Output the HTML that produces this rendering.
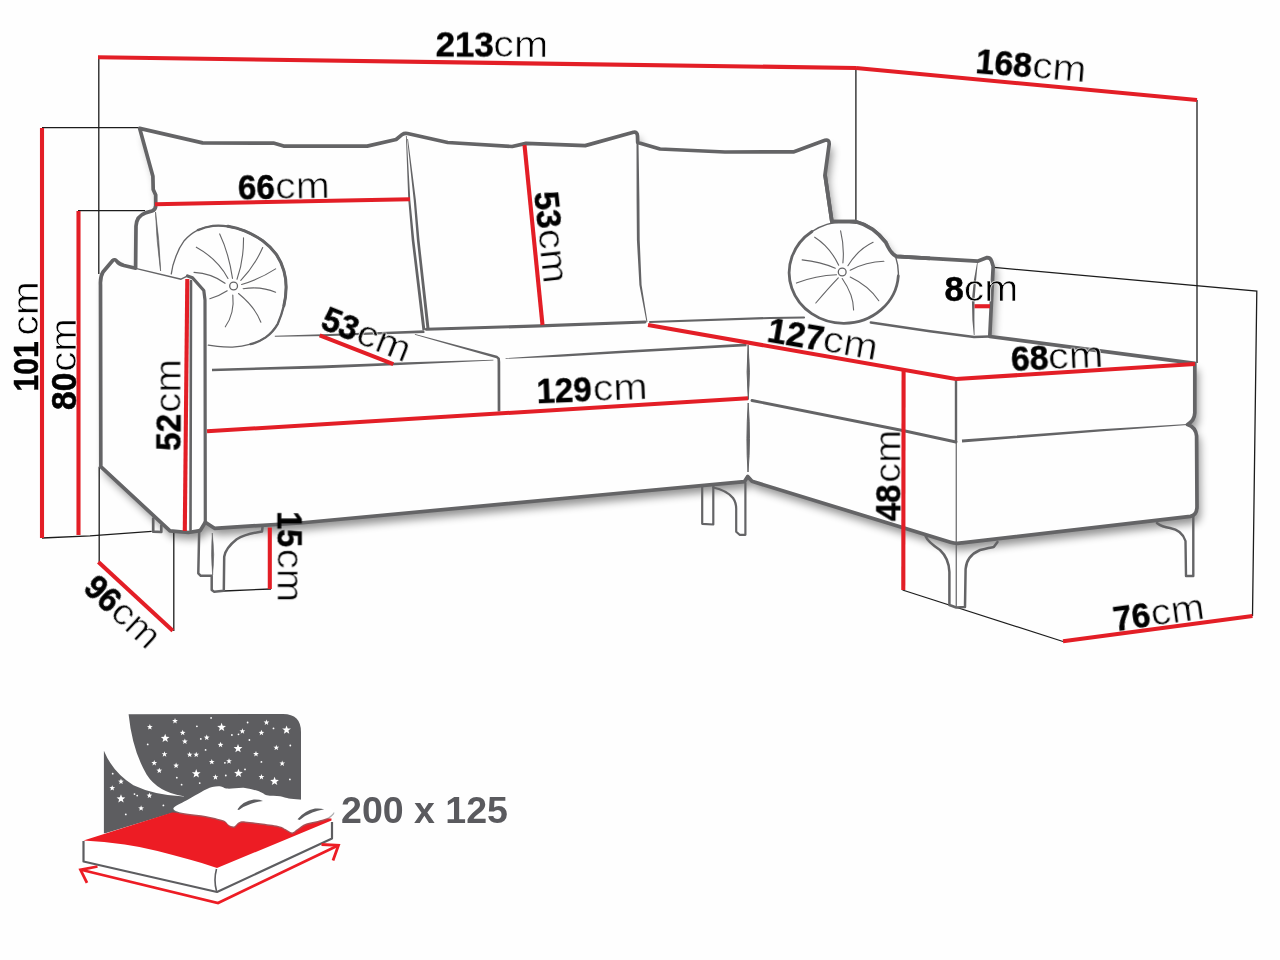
<!DOCTYPE html>
<html><head><meta charset="utf-8"><title>Sofa dimensions</title>
<style>
html,body{margin:0;padding:0;background:#fefefe;}
body{width:1280px;height:960px;overflow:hidden;}
svg{display:block;}
text{font-family:"Liberation Sans",sans-serif;}
.b{font-weight:bold;font-size:35px;stroke:#000;stroke-width:0.5px;}
.r{font-weight:normal;font-size:37px;stroke:#fefefe;stroke-width:0.7px;}
.bed{font-weight:bold;font-size:37.5px;fill:#5a5a5e;}
</style></head><body>
<svg width="1280" height="960" viewBox="0 0 1280 960">
<defs><filter id="sh" x="-5%" y="-5%" width="110%" height="115%"><feGaussianBlur stdDeviation="4.5"/></filter></defs>
<rect width="1280" height="960" fill="#fefefe"/>
<g filter="url(#sh)" opacity="0.42"><path d="M100.8,466.7 L100.5,285 Q100,277 103,272 L112.5,260.7 Q115,258.5 117,261.5 Q119,264 124,265.5 L135.6,268.2 L136,226 Q136.5,216 145.3,212.9 L152,211 Q156,209.5 155.7,205 L155.7,195 L153.2,189.4 L152.9,176.3 L139.7,128.4 L202.6,142.9 L273.4,143.1 L283.6,146.1 L367.2,146.1 L396.1,139.5 L402.3,134.4 Q404.5,132.8 407.5,133.5 L447.7,142.5 L512.2,146.5 L526,143.4 L585.2,145.6 L633.4,132.2 Q637.3,131.5 637.5,136 L637.7,142.5 L660,149 L725,152 L794,151.8 L825,140.3 Q829.3,139.3 829.2,144 L825,174.7 L831.9,221.7 L855.9,221.7 Q873,226 885.7,242.3 Q891,254 896,256.3 L977.5,261.2 L986.5,257.7 Q990.2,257.3 991.5,260.8 L993.2,266.5 L992.6,277.5 L989.8,336.5 L1194.8,363.3 L1194.8,412.9 Q1194.5,420.5 1187.5,424.5 Q1196,427.5 1196.6,436 L1197,507 Q1196.8,515 1190.4,516.4 L962,542.8 Q956.25,544 950.5,542.3 L752,481.3 L747.7,476.5 L744.5,481.6 L600,495 L300,523 L214.5,528.3 L205.3,522.3 L200.2,530.6 L188.3,532.5 L170,530.8 Z" transform="translate(3.5,7)" fill="#000"/></g>
<g fill="none" stroke="#1c1c1c" stroke-width="1.3">
<path d="M98.8,57 L98.8,274"/>
<path d="M42,127.7 L140,127.7"/>
<path d="M78,210.7 L145,210.7"/>
<path d="M42,538 L90,535.8 L151.7,531.3"/>
<path d="M99.2,466.7 L99.2,562"/>
<path d="M173.8,532 L173.8,631"/>
<path d="M224,591 L271,589"/>
<path d="M855.9,68 L855.9,221"/>
<path d="M1197,100 L1197,363"/>
<path d="M994,267.4 L1256.8,291.2 L1252.5,616"/>
<path d="M902.5,590 L1063,641.5"/>
</g>
<path d="M100.8,466.7 L100.5,285 Q100,277 103,272 L112.5,260.7 Q115,258.5 117,261.5 Q119,264 124,265.5 L135.6,268.2 L136,226 Q136.5,216 145.3,212.9 L152,211 Q156,209.5 155.7,205 L155.7,195 L153.2,189.4 L152.9,176.3 L139.7,128.4 L202.6,142.9 L273.4,143.1 L283.6,146.1 L367.2,146.1 L396.1,139.5 L402.3,134.4 Q404.5,132.8 407.5,133.5 L447.7,142.5 L512.2,146.5 L526,143.4 L585.2,145.6 L633.4,132.2 Q637.3,131.5 637.5,136 L637.7,142.5 L660,149 L725,152 L794,151.8 L825,140.3 Q829.3,139.3 829.2,144 L825,174.7 L831.9,221.7 L855.9,221.7 Q873,226 885.7,242.3 Q891,254 896,256.3 L977.5,261.2 L986.5,257.7 Q990.2,257.3 991.5,260.8 L993.2,266.5 L992.6,277.5 L989.8,336.5 L1194.8,363.3 L1194.8,412.9 Q1194.5,420.5 1187.5,424.5 Q1196,427.5 1196.6,436 L1197,507 Q1196.8,515 1190.4,516.4 L962,542.8 Q956.25,544 950.5,542.3 L752,481.3 L747.7,476.5 L744.5,481.6 L600,495 L300,523 L214.5,528.3 L205.3,522.3 L200.2,530.6 L188.3,532.5 L170,530.8 Z" fill="#fefefe" stroke="#646466" stroke-width="3.7" stroke-linejoin="round"/>
<g fill="none" stroke="#646466" stroke-linecap="round" stroke-linejoin="round">
<path d="M135.6,268.4 L181.1,279.2 L187.2,276.2" stroke-width="1.4"/>
<path d="M187.5,276 L192.5,277.7 L203.8,290.5 L205,300 L205.3,522" stroke-width="3.2"/>
<path d="M191,281 L190.5,530" stroke-width="2.6"/>
<path d="M752,400.5 L905,431 L956,442" stroke-width="2.9"/>
<path d="M956,381 L956,442" stroke-width="2.4"/>
<path d="M956.25,442 L956.25,606" stroke-width="1.2"/>
<path d="M426.4,329.3 L540,325.9 L645,322" stroke-width="3.1"/>
<path d="M650,322 L770,318 L804,317.5" stroke-width="2.2"/>
<path d="M870.8,322.5 L930,331.2 L974,337 L989,336.5" stroke-width="2.4"/>
<path d="M153.2,518.5 L153.2,531.7 L161.3,532 L161.3,525.5" stroke-width="2.7"/>
<path d="M199.2,530 L198.3,573.3 L200.8,575.8 L211.7,575.8 L211.7,590 L214.2,591.7 L223.8,590.8 L224.2,556.7 Q225.5,548 236.7,539.2 Q245,534 262,531.5 L262.5,527.5" stroke-width="2.5"/>
<path d="M702.2,486.7 L702.2,523.8 L713.3,524.5 L713.3,486" stroke-width="2.2"/>
<path d="M713.3,487.5 Q727,490.5 733,498 Q736.5,503 736.2,510 L736.2,531.8 L739.6,534.8 L745.4,534.8 L745.4,483" stroke-width="2.2"/>
<path d="M925.6,536.25 Q928,542 940,550 Q949,558.5 949.4,572 L949.4,605 L956.25,607.5 L965,606.9 L965.6,569 Q966.5,556 980,550 Q990,547.5 993.75,546.9 L997.5,541.9" stroke-width="2.5"/>
<path d="M1156.9,523 Q1162,527 1170,528 Q1182,530 1185.5,541 L1186,576 L1193.3,576 L1193.3,516" stroke-width="2.4"/>
</g>
<g fill="#646466" stroke="none">
<path d="M405.90,136.02 L408.30,200.06 L411.71,240.15 L422.41,330.18 L425.39,329.82 L414.29,239.85 L410.30,199.94 L406.70,135.98 Z"/>
<path d="M407.20,139.05 L413.71,200.11 L416.91,240.13 L426.51,328.67 L429.49,328.33 L419.49,239.87 L415.89,199.89 L408.00,138.95 Z"/>
<path d="M636.50,143.01 L636.60,200.01 L636.90,240.04 L639.41,285.12 L646.51,322.09 L647.49,321.91 L641.59,284.88 L639.70,239.96 L639.40,199.99 L638.50,142.99 Z"/>
<path d="M212.03,371.20 L320.05,368.40 L400.05,365.10 L493.41,360.45 L493.39,359.75 L399.95,362.50 L319.95,365.60 L211.97,368.80 Z"/>
<path d="M414.81,334.74 L496.44,358.25 L497.36,359.12 L497.55,362.01 L497.65,411.50 L500.35,411.50 L500.25,361.99 L499.84,358.08 L497.16,355.75 L414.99,334.06 Z"/>
<path d="M505.62,358.95 L560.07,356.75 L620.07,353.25 L746.57,346.20 L746.43,343.60 L619.93,350.75 L559.93,354.45 L505.58,358.25 Z"/>
<path d="M962.11,442.40 L1100.08,431.50 L1187.53,424.90 L1187.47,424.10 L1099.92,429.30 L961.89,439.60 Z"/>
<path d="M274.81,336.80 L330.03,336.05 L424.45,333.05 L424.35,330.35 L329.97,333.95 L274.79,335.80 Z"/>
<path d="M155.5,212 Q159.4,240 160.6,271 Q156.4,240 155.5,212 Z" stroke="#646466" stroke-width="0.7"/>
<path d="M212.3,533 Q215,555 212.6,575 Q210.6,555 212.3,533 Z" stroke="#646466" stroke-width="0.6"/>
<path d="M977.20,261.96 L973.91,279.88 L971.90,299.95 L972.40,320.03 L973.80,335.02 L974.60,334.98 L974.40,319.97 L974.50,300.05 L976.09,280.12 L977.80,262.04 Z"/>
<path d="M748.1,345 Q750.6,372 748.3,399.5 Q746,372 748.1,345 Z" stroke="#646466" stroke-width="1.0"/>
<path d="M748.2,403 Q750.8,440 748,472 Q745.8,440 748.2,403 Z" stroke="#646466" stroke-width="1.0"/>
</g>
<g fill="none" stroke="#646466" stroke-linecap="round" stroke-linejoin="round">
<path d="M171.3,273.9 Q172.5,265 175.1,258.8 Q178.5,248.5 184.2,240.7 Q190,234 197.8,230.1 Q205,227 212.9,225.9 Q220,225.3 228,226.3 Q237,227.8 244.6,230.9 Q254,234.8 262.7,240.7 Q270.5,246.5 276.3,254.3 Q281.5,262 283.9,270.9 Q286.2,279 286.1,287.5 Q286,297 283.9,305.6 Q281.5,315.5 277.8,323.8 Q273,332 265.7,337.4 Q259,342 250.6,344.2 Q242,346.5 232.5,347.2 Q224,347.3 217.4,346.4 L208.3,345.2" stroke-width="1.3"/>
<path d="M197.8,230.1 Q205,227 212.9,225.9 Q220,225.3 228,226.3 Q237,227.8 244.6,230.9 Q254,234.8 262.7,240.7 Q270.5,246.5 276.3,254.3 Q281.5,262 283.9,270.9 Q286.2,279 286.1,287.5 Q286,297 283.9,305.6 Q281.5,315.5 277.8,323.8 Q273,332 265.7,337.4 Q259,342 250.6,344.2" stroke-width="2.3"/>
<path d="M228,226.3 Q237,227.8 244.6,230.9 Q254,234.8 262.7,240.7 Q270.5,246.5 276.3,254.3 Q281.5,262 283.9,270.9 Q286.2,279 286.1,287.5 Q286,297 283.9,305.6" stroke-width="3.0"/>
</g>
<ellipse cx="843.9" cy="272.7" rx="54.4" ry="50.6" fill="#fefefe" stroke="none"/>
<path d="M855.9,223.4 A54.4,50.6 0 0 0 812,231.5 M898.3,276 A54.4,50.6 0 0 0 895.9,257.9" fill="none" stroke="#646466" stroke-width="1.4" stroke-linecap="round"/>
<path d="M812,231.5 A54.4,50.6 0 0 0 843.9,323.3 A54.4,50.6 0 0 0 898.3,276" fill="none" stroke="#646466" stroke-width="2.8" stroke-linecap="round"/>
<path d="M825,174.7 L831.9,221.7 L855.9,221.7 Q873,226 885.7,242.3 Q891,254 896,256.3 L930,258.3" fill="none" stroke="#646466" stroke-width="3.7" stroke-linejoin="round"/>
<g fill="none" stroke="#646466" stroke-width="1.1" stroke-linecap="round"><path d="M219.7,233.9 Q228.7,252.8 232.5,278.4"/><path d="M243.5,237.7 Q243.8,260.3 237,279.2"/><path d="M262.7,247.5 Q254.4,266.4 240.8,280.3"/><path d="M275.6,268.9 Q259.7,279.2 241.6,284.5"/><path d="M275.6,292.3 Q261.2,286 243.1,288.7"/><path d="M260.9,322.3 Q255.2,307.1 238.5,293.5"/><path d="M225.3,326.8 Q234.8,313.2 232.8,295.1"/><path d="M209.8,298.8 Q219.7,295.8 227.2,290.8"/><path d="M194,272.4 Q211.4,273.2 225,283.3"/><path d="M196.3,247.2 Q217.4,258.8 228,278.4"/><circle cx="233.6" cy="286" r="3.9" stroke-width="1.3" fill="#fefefe"/></g>
<g fill="none" stroke="#646466" stroke-width="1.1" stroke-linecap="round"><path d="M814.7,237.2 Q830,246.9 838.7,265.2"/><path d="M840.6,230.8 Q844.5,246.9 842.9,262.9"/><path d="M873.1,242.3 Q858.2,249.2 847.9,265.7"/><path d="M883.9,261.3 Q866.2,261.8 850.2,270.2"/><path d="M878.8,300.7 Q868.5,285.8 850.2,277.1"/><path d="M853.6,309.9 Q853.6,295 842.2,278.5"/><path d="M815.8,303 Q828.4,288.1 838.3,277.8"/><path d="M796.4,283.1 Q815.8,275.5 836.5,274.8"/><path d="M802.1,259.9 Q820.4,261.8 835.3,268.2"/><circle cx="842.2" cy="272" r="3.9" stroke-width="1.3" fill="#fefefe"/></g>
<g stroke="#e31e26" stroke-width="4.1" fill="none">
<line x1="98" y1="57.3" x2="856" y2="68"/>
<line x1="856" y1="68" x2="1197" y2="100"/>
<line x1="42" y1="128" x2="42" y2="538"/>
<line x1="78.5" y1="211" x2="78.5" y2="535"/>
<line x1="155" y1="204.3" x2="410" y2="199.2"/>
<line x1="524.5" y1="145" x2="542.5" y2="325"/>
<line x1="319.7" y1="335.3" x2="393.3" y2="364.2"/>
<line x1="187.3" y1="279" x2="184.8" y2="531"/>
<line x1="207" y1="431.3" x2="748" y2="398.3"/>
<line x1="648" y1="325" x2="956" y2="379"/>
<line x1="956" y1="379" x2="1195" y2="364"/>
<line x1="903.6" y1="370" x2="903.3" y2="590"/>
<line x1="974.5" y1="306.25" x2="990" y2="306.25"/>
<line x1="1063" y1="641.3" x2="1252.5" y2="616"/>
<line x1="98.4" y1="562" x2="172.8" y2="630.8"/>
<line x1="269.8" y1="527.5" x2="269.8" y2="589"/>
</g>
<g id="labels" fill="#000" opacity="0.999">
<g transform="translate(436.9,56.3) rotate(0.4)"><text class="b" x="-1.19" textLength="57.87" lengthAdjust="spacingAndGlyphs">213</text><text class="r" x="56.32" textLength="54.87" lengthAdjust="spacingAndGlyphs">cm</text></g>
<g transform="translate(976.9,73.05) rotate(4.8)"><text class="b" x="-2.12" textLength="56.38" lengthAdjust="spacingAndGlyphs">168</text><text class="r" x="54.65" textLength="54.00" lengthAdjust="spacingAndGlyphs">cm</text></g>
<g transform="translate(37.5,389.5) rotate(-90)"><text class="b" x="-1.89" textLength="50.25" lengthAdjust="spacingAndGlyphs">101</text><text class="r" x="53.73" textLength="54.44" lengthAdjust="spacingAndGlyphs">cm</text></g>
<g transform="translate(75.5,409) rotate(-90)"><text class="b" x="-1.06" textLength="37.43" lengthAdjust="spacingAndGlyphs">80</text><text class="r" x="37.26" textLength="53.57" lengthAdjust="spacingAndGlyphs">cm</text></g>
<g transform="translate(180.5,449.8) rotate(-90)"><text class="b" x="-1.04" textLength="36.90" lengthAdjust="spacingAndGlyphs">52</text><text class="r" x="36.96" textLength="53.79" lengthAdjust="spacingAndGlyphs">cm</text></g>
<g transform="translate(239.4,199.5) rotate(-1.0)"><text class="b" x="-1.23" textLength="36.79" lengthAdjust="spacingAndGlyphs">66</text><text class="r" x="36.13" textLength="54.66" lengthAdjust="spacingAndGlyphs">cm</text></g>
<g transform="translate(534,193.7) rotate(83.8)"><text class="b" x="-1.04" textLength="36.91" lengthAdjust="spacingAndGlyphs">53</text><text class="r" x="36.42" textLength="54.77" lengthAdjust="spacingAndGlyphs">cm</text></g>
<g transform="translate(320.0,328.5) rotate(21.9)"><text class="b" x="-1.04" textLength="36.80" lengthAdjust="spacingAndGlyphs">53</text><text class="r" x="36.61" textLength="55.09" lengthAdjust="spacingAndGlyphs">cm</text></g>
<g transform="translate(539,403.1) rotate(-2.2)"><text class="b" x="-2.08" textLength="55.31" lengthAdjust="spacingAndGlyphs">129</text><text class="r" x="54.22" textLength="54.87" lengthAdjust="spacingAndGlyphs">cm</text></g>
<g transform="translate(768.3,341.7) rotate(9.8)"><text class="b" x="-2.13" textLength="56.58" lengthAdjust="spacingAndGlyphs">127</text><text class="r" x="53.81" textLength="55.09" lengthAdjust="spacingAndGlyphs">cm</text></g>
<g transform="translate(945.6,301) rotate(0)"><text class="b" x="-1.09" textLength="19.35" lengthAdjust="spacingAndGlyphs">8</text><text class="r" x="18.23" textLength="54.44" lengthAdjust="spacingAndGlyphs">cm</text></g>
<g transform="translate(1012.8,371) rotate(-2.6)"><text class="b" x="-1.25" textLength="37.44" lengthAdjust="spacingAndGlyphs">68</text><text class="r" x="35.71" textLength="55.31" lengthAdjust="spacingAndGlyphs">cm</text></g>
<g transform="translate(900.3,520.6) rotate(-90)"><text class="b" x="-0.47" textLength="36.43" lengthAdjust="spacingAndGlyphs">48</text><text class="r" x="37.88" textLength="52.91" lengthAdjust="spacingAndGlyphs">cm</text></g>
<g transform="translate(1116.5,631.1) rotate(-8)"><text class="b" x="-1.43" textLength="37.10" lengthAdjust="spacingAndGlyphs">76</text><text class="r" x="36.25" textLength="53.89" lengthAdjust="spacingAndGlyphs">cm</text></g>
<g transform="translate(82.3,590.7) rotate(42.8)"><text class="b" x="-1.12" textLength="36.26" lengthAdjust="spacingAndGlyphs">96</text><text class="r" x="35.79" textLength="52.81" lengthAdjust="spacingAndGlyphs">cm</text></g>
<g transform="translate(277.6,513.2) rotate(90)"><text class="b" x="-2.04" textLength="36.10" lengthAdjust="spacingAndGlyphs">15</text><text class="r" x="35.46" textLength="53.68" lengthAdjust="spacingAndGlyphs">cm</text></g>
</g>
<g id="bed" opacity="0.999">
<path d="M128.6,714.2 L283,714 Q301,714 301,732 L301,815 L185,815 L183.8,796.3 Q157.5,791.9 146.6,774.4 Q132.3,750.3 128.6,714.2 Z" fill="#5d5d60"/>
<path d="M103.9,750.8 Q112.7,772.2 133.4,785.3 Q155.3,795.6 183.8,796.5 L200,818 L103.9,833.5 Z" fill="#5d5d60"/>
<g fill="#fff">
<polygon points="149.9,724.1 150.6,726.1 152.7,726.2 151.0,727.5 151.6,729.6 149.9,728.4 148.1,729.6 148.7,727.5 147.0,726.2 149.1,726.1"/>
<polygon points="175.0,718.0 175.8,720.0 177.9,720.1 176.2,721.4 176.8,723.4 175.0,722.3 173.2,723.4 173.8,721.4 172.2,720.1 174.3,720.0"/>
<polygon points="165.2,733.7 166.3,736.7 169.5,736.9 167.0,738.9 167.9,742.0 165.2,740.2 162.5,742.0 163.3,738.9 160.8,736.9 164.0,736.7"/>
<polygon points="182.7,729.8 183.4,731.8 185.5,731.9 183.9,733.2 184.4,735.2 182.7,734.1 180.9,735.2 181.5,733.2 179.8,731.9 181.9,731.8"/>
<polygon points="184.9,738.6 185.6,740.5 187.7,740.6 186.1,742.0 186.6,744.0 184.9,742.8 183.1,744.0 183.7,742.0 182.0,740.6 184.1,740.5"/>
<circle cx="196.9" cy="726.3" r="0.9"/>
<circle cx="211.1" cy="717.9" r="0.9"/>
<polygon points="221.6,722.7 222.7,725.8 226.0,725.9 223.4,727.9 224.3,731.1 221.6,729.3 218.9,731.1 219.8,727.9 217.2,725.9 220.5,725.8"/>
<polygon points="206.7,734.6 207.5,736.6 209.6,736.7 207.9,738.0 208.5,740.1 206.7,738.9 205.0,740.1 205.5,738.0 203.9,736.7 206.0,736.6"/>
<circle cx="200.8" cy="738.9" r="0.9"/>
<polygon points="220.5,741.8 221.3,743.8 223.4,743.9 221.7,745.2 222.3,747.3 220.5,746.1 218.8,747.3 219.3,745.2 217.7,743.9 219.8,743.8"/>
<circle cx="231.9" cy="735.0" r="0.9"/>
<circle cx="238.5" cy="734.3" r="0.9"/>
<polygon points="242.4,728.3 243.1,730.3 245.2,730.4 243.6,731.7 244.2,733.7 242.4,732.5 240.6,733.7 241.2,731.7 239.5,730.4 241.7,730.3"/>
<circle cx="247.6" cy="722.5" r="0.9"/>
<circle cx="249.4" cy="740.0" r="0.9"/>
<polygon points="238.0,744.0 239.2,747.0 242.4,747.1 239.9,749.2 240.7,752.3 238.0,750.5 235.3,752.3 236.2,749.2 233.6,747.1 236.9,747.0"/>
<polygon points="261.4,729.8 262.2,731.8 264.3,731.9 262.6,733.2 263.2,735.2 261.4,734.1 259.7,735.2 260.2,733.2 258.6,731.9 260.7,731.8"/>
<polygon points="266.5,719.5 267.2,721.5 269.3,721.6 267.7,722.9 268.2,725.0 266.5,723.8 264.7,725.0 265.3,722.9 263.6,721.6 265.7,721.5"/>
<circle cx="273.5" cy="728.4" r="0.9"/>
<polygon points="286.6,725.4 287.7,728.4 291.0,728.6 288.4,730.6 289.3,733.7 286.6,731.9 283.9,733.7 284.7,730.6 282.2,728.6 285.4,728.4"/>
<polygon points="276.3,744.7 277.0,746.7 279.2,746.8 277.5,748.1 278.1,750.1 276.3,749.0 274.5,750.1 275.1,748.1 273.4,746.8 275.6,746.7"/>
<circle cx="290.3" cy="745.5" r="0.9"/>
<polygon points="256.0,751.0 256.7,753.0 258.8,753.1 257.2,754.4 257.7,756.5 256.0,755.3 254.2,756.5 254.8,754.4 253.1,753.1 255.2,753.0"/>
<circle cx="261.4" cy="761.9" r="0.9"/>
<polygon points="282.2,760.4 282.9,762.4 285.1,762.5 283.4,763.8 284.0,765.9 282.2,764.7 280.4,765.9 281.0,763.8 279.4,762.5 281.5,762.4"/>
<circle cx="147.7" cy="744.4" r="0.9"/>
<polygon points="164.5,751.3 165.2,753.2 167.4,753.3 165.7,754.6 166.3,756.7 164.5,755.5 162.7,756.7 163.3,754.6 161.7,753.3 163.8,753.2"/>
<polygon points="189.7,751.7 190.4,753.7 192.5,753.8 190.9,755.1 191.4,757.1 189.7,756.0 187.9,757.1 188.5,755.1 186.8,753.8 188.9,753.7"/>
<polygon points="196.2,751.7 197.0,753.7 199.1,753.8 197.4,755.1 198.0,757.1 196.2,756.0 194.5,757.1 195.0,755.1 193.4,753.8 195.5,753.7"/>
<circle cx="205.6" cy="749.9" r="0.9"/>
<polygon points="211.8,758.9 212.5,760.9 214.6,761.0 213.0,762.3 213.5,764.3 211.8,763.2 210.0,764.3 210.6,762.3 208.9,761.0 211.0,760.9"/>
<circle cx="224.9" cy="762.8" r="0.9"/>
<polygon points="229.0,758.3 229.8,760.2 231.9,760.3 230.2,761.6 230.8,763.7 229.0,762.5 227.3,763.7 227.8,761.6 226.2,760.3 228.3,760.2"/>
<polygon points="154.2,760.0 155.0,762.0 157.1,762.1 155.4,763.4 156.0,765.4 154.2,764.3 152.5,765.4 153.0,763.4 151.4,762.1 153.5,762.0"/>
<polygon points="176.1,762.6 176.8,764.6 179.0,764.7 177.3,766.0 177.9,768.1 176.1,766.9 174.3,768.1 174.9,766.0 173.3,764.7 175.4,764.6"/>
<polygon points="159.3,767.7 160.0,769.6 162.1,769.7 160.5,771.1 161.0,773.1 159.3,771.9 157.5,773.1 158.1,771.1 156.4,769.7 158.5,769.6"/>
<polygon points="196.2,769.1 197.4,772.2 200.6,772.3 198.1,774.3 198.9,777.4 196.2,775.7 193.5,777.4 194.4,774.3 191.9,772.3 195.1,772.2"/>
<circle cx="176.8" cy="777.7" r="0.9"/>
<circle cx="181.6" cy="784.7" r="0.9"/>
<circle cx="199.7" cy="783.1" r="0.9"/>
<polygon points="215.5,774.2 216.2,776.2 218.3,776.3 216.7,777.6 217.2,779.7 215.5,778.5 213.7,779.7 214.3,777.6 212.6,776.3 214.7,776.2"/>
<circle cx="225.8" cy="775.5" r="0.9"/>
<polygon points="238.5,768.7 239.6,771.7 242.8,771.9 240.3,773.9 241.2,777.0 238.5,775.2 235.7,777.0 236.6,773.9 234.1,771.9 237.3,771.7"/>
<circle cx="245.0" cy="769.4" r="0.9"/>
<polygon points="261.4,774.0 262.2,776.0 264.3,776.1 262.6,777.4 263.2,779.4 261.4,778.3 259.7,779.4 260.2,777.4 258.6,776.1 260.7,776.0"/>
<polygon points="274.6,776.8 275.7,779.8 278.9,780.0 276.4,782.0 277.3,785.1 274.6,783.3 271.8,785.1 272.7,782.0 270.2,780.0 273.4,779.8"/>
<circle cx="289.9" cy="779.4" r="0.9"/>
<circle cx="112.7" cy="773.7" r="0.9"/>
<polygon points="121.0,778.6 121.7,780.6 123.8,780.7 122.2,782.0 122.7,784.0 121.0,782.9 119.2,784.0 119.8,782.0 118.1,780.7 120.2,780.6"/>
<polygon points="112.2,785.2 113.0,787.1 115.1,787.2 113.4,788.6 114.0,790.6 112.2,789.4 110.5,790.6 111.0,788.6 109.4,787.2 111.5,787.1"/>
<polygon points="121.0,794.3 122.1,797.3 125.3,797.5 122.8,799.5 123.7,802.6 121.0,800.8 118.3,802.6 119.1,799.5 116.6,797.5 119.8,797.3"/>
<circle cx="134.5" cy="794.1" r="0.9"/>
<circle cx="137.2" cy="795.6" r="0.9"/>
<polygon points="149.4,792.6 150.2,794.6 152.3,794.7 150.6,796.0 151.2,798.0 149.4,796.9 147.7,798.0 148.2,796.0 146.6,794.7 148.7,794.6"/>
<polygon points="141.1,805.3 141.8,807.3 144.0,807.4 142.3,808.7 142.9,810.7 141.1,809.6 139.3,810.7 139.9,808.7 138.2,807.4 140.4,807.3"/>
<circle cx="163.4" cy="805.4" r="0.9"/>
<circle cx="125.8" cy="814.4" r="0.9"/>
</g>
<path d="M83,840 L172,813 L332,819 L332,838 L217,892 L83,861.5 Z" fill="#fff"/>
<path d="M83.5,840.5 L172,812.5 L250,815 L331.5,818.5 L331.5,820.5 L217,868 Q203,863 190.3,859.7 Q173,855 157.5,851 Q140,846.5 124.7,844.4 Q104,841.5 83.5,840.5 Z" fill="#ed1c24"/>
<path d="M83.5,841 L83.5,861.5 L217,892 L332,838.5 L332,822" fill="none" stroke="#5d5d60" stroke-width="2.2" stroke-linejoin="round"/>
<path d="M216.5,869 Q213.5,880 216.5,891" fill="none" stroke="#5d5d60" stroke-width="1.6"/>
<path d="M173.9,807.6 C175.7,805.6 183.6,802.2 188.1,799.5 C192.7,796.9 197.3,794.0 201.3,791.9 C205.3,789.8 208.9,788.0 212.2,787.1 C215.5,786.2 218.4,786.2 221.0,786.4 C223.5,786.7 223.5,788.3 227.5,788.6 C231.5,788.9 239.5,787.4 245.0,787.9 C250.5,788.5 256.7,790.7 260.3,791.9 C264.0,793.1 263.6,794.4 266.9,795.2 C270.2,795.9 276.4,795.7 280.0,796.3 C283.7,796.8 283.7,797.7 288.8,798.4 C293.9,799.2 304.8,799.5 310.6,800.6 C316.5,801.7 319.9,803.4 323.8,805.0 C327.6,806.7 332.3,808.8 333.6,810.5 C334.9,812.1 333.1,813.4 331.4,814.9 C329.8,816.3 328.0,817.8 323.8,819.2 C319.6,820.7 310.6,822.0 306.3,823.6 C301.9,825.2 299.9,827.6 297.5,829.1 C295.2,830.5 294.1,832.4 292.1,832.4 C290.0,832.4 287.5,830.1 285.5,829.1 C283.5,828.1 283.8,827.4 280.0,826.4 C276.2,825.5 268.4,824.4 262.5,823.6 C256.7,822.8 249.0,821.6 245.0,821.4 C241.0,821.2 240.3,821.7 238.5,822.5 C236.6,823.4 235.7,826.1 234.1,826.4 C232.4,826.8 230.4,825.7 228.6,824.7 C226.8,823.7 227.0,821.8 223.1,820.3 C219.3,818.9 211.5,817.0 205.6,815.9 C199.8,814.9 192.9,814.5 188.1,813.8 C183.4,813.0 179.6,812.6 177.2,811.6 C174.8,810.6 172.1,809.6 173.9,807.6 Z" fill="#77777a" opacity="0.6" transform="translate(0.3,1.5)"/>
<path d="M173.9,807.6 C175.7,805.6 183.6,802.2 188.1,799.5 C192.7,796.9 197.3,794.0 201.3,791.9 C205.3,789.8 208.9,788.0 212.2,787.1 C215.5,786.2 218.4,786.2 221.0,786.4 C223.5,786.7 223.5,788.3 227.5,788.6 C231.5,788.9 239.5,787.4 245.0,787.9 C250.5,788.5 256.7,790.7 260.3,791.9 C264.0,793.1 263.6,794.4 266.9,795.2 C270.2,795.9 276.4,795.7 280.0,796.3 C283.7,796.8 283.7,797.7 288.8,798.4 C293.9,799.2 304.8,799.5 310.6,800.6 C316.5,801.7 319.9,803.4 323.8,805.0 C327.6,806.7 332.3,808.8 333.6,810.5 C334.9,812.1 333.1,813.4 331.4,814.9 C329.8,816.3 328.0,817.8 323.8,819.2 C319.6,820.7 310.6,822.0 306.3,823.6 C301.9,825.2 299.9,827.6 297.5,829.1 C295.2,830.5 294.1,832.4 292.1,832.4 C290.0,832.4 287.5,830.1 285.5,829.1 C283.5,828.1 283.8,827.4 280.0,826.4 C276.2,825.5 268.4,824.4 262.5,823.6 C256.7,822.8 249.0,821.6 245.0,821.4 C241.0,821.2 240.3,821.7 238.5,822.5 C236.6,823.4 235.7,826.1 234.1,826.4 C232.4,826.8 230.4,825.7 228.6,824.7 C226.8,823.7 227.0,821.8 223.1,820.3 C219.3,818.9 211.5,817.0 205.6,815.9 C199.8,814.9 192.9,814.5 188.1,813.8 C183.4,813.0 179.6,812.6 177.2,811.6 C174.8,810.6 172.1,809.6 173.9,807.6 Z" fill="#fff"/>
<path d="M237.4,809.4 Q242.8,801.1 253.8,799.5 Q259.2,799.3 263.0,800.9 Q256.0,801.9 251.1,803.7 Q243.9,806.1 238.9,810.0 Z" fill="#5d5d60"/>
<path d="M297.5,819.2 Q304.1,810.9 315.0,808.5 Q320.5,808.1 324.2,809.2 Q317.2,810.5 312.4,812.4 Q305.2,815.1 299.7,819.9 Z" fill="#5d5d60"/>
<g fill="none" stroke="#ed1c24" stroke-width="2.8" stroke-linejoin="miter"><path d="M82,870 L218,903 L337,846"/><path d="M97.5,866.5 L80.5,869.8 L87,882.8"/><path d="M321.5,844.5 L338.5,845.3 L333,860.5"/></g>
<text class="bed" x="341" y="823" textLength="167" lengthAdjust="spacingAndGlyphs">200 x 125</text>
</g>
</svg>
</body></html>
